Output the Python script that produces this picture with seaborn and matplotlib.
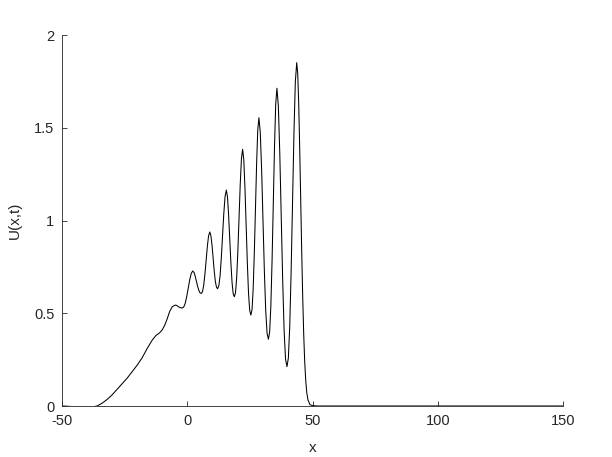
import matplotlib
matplotlib.use("Agg")
import matplotlib.pyplot as plt
import seaborn as sns
import pandas as pd

# values
x_tail = [-50, -47, -44, -41, -38, -36, -34, -32, -30, -28, -26, -24, -22, -20,
          -18, -16, -14, -12.5, -11, -10, -9, -8, -7, -6, -5, -4.6, -4, -3]
u_tail = [0.0, -0.002, -0.005, -0.007, -0.005, 0.0, 0.015, 0.035, 0.06, 0.09, 0.12, 0.15, 0.185, 0.22,
          0.26, 0.31, 0.355, 0.38, 0.395, 0.41, 0.435, 0.47, 0.51, 0.535, 0.543, 0.544, 0.54, 0.531]

x_waves = [-2.0, -1.4, -0.8, -0.2, 0.4, 1.0, 1.6, 2.2,
           2.69, 3.17, 3.66, 4.14, 4.63, 5.11, 5.6,
           6.09, 6.57, 7.06, 7.54, 8.03, 8.51, 9.0,
           9.44, 9.89, 10.33, 10.77, 11.21, 11.66, 12.1,
           12.6, 13.1, 13.6, 14.1, 14.6, 15.1, 15.6,
           16.06, 16.51, 16.97, 17.43, 17.89, 18.34, 18.8,
           19.27, 19.74, 20.21, 20.69, 21.16, 21.63, 22.1,
           22.57, 23.04, 23.51, 23.99, 24.46, 24.93, 25.4,
           25.86, 26.31, 26.77, 27.23, 27.69, 28.14, 28.6,
           29.14, 29.69, 30.23, 30.77, 31.31, 31.86, 32.4,
           32.89, 33.37, 33.86, 34.34, 34.83, 35.31, 35.8,
           36.37, 36.94, 37.51, 38.09, 38.66, 39.23, 39.8,
           40.36, 40.91, 41.47, 42.03, 42.59, 43.14, 43.7]
u_waves = [0.528, 0.534, 0.554, 0.591, 0.636, 0.681, 0.715, 0.728,
           0.720, 0.700, 0.672, 0.645, 0.623, 0.610, 0.607,
           0.616, 0.651, 0.711, 0.785, 0.861, 0.917, 0.938,
           0.918, 0.866, 0.797, 0.728, 0.672, 0.641, 0.632,
           0.647, 0.702, 0.799, 0.919, 1.040, 1.130, 1.164,
           1.127, 1.029, 0.899, 0.769, 0.665, 0.605, 0.589,
           0.611, 0.694, 0.838, 1.018, 1.198, 1.333, 1.384,
           1.327, 1.175, 0.972, 0.770, 0.608, 0.515, 0.490,
           0.520, 0.630, 0.823, 1.063, 1.305, 1.486, 1.554,
           1.478, 1.275, 1.004, 0.734, 0.518, 0.393, 0.360,
           0.398, 0.539, 0.783, 1.089, 1.396, 1.627, 1.713,
           1.617, 1.362, 1.021, 0.682, 0.410, 0.254, 0.212,
           0.258, 0.428, 0.725, 1.096, 1.467, 1.746, 1.851]

x_front = [44.1, 44.5, 44.9, 45.3, 45.7, 46.1, 46.5, 46.9, 47.3, 47.7, 48.2, 49.0, 50, 52,
           60, 80, 100, 120, 140, 150]
u_front = [1.792, 1.627, 1.386, 1.106, 0.828, 0.582, 0.382, 0.235, 0.137, 0.074, 0.032, 0.007, 0.002, 0.0,
           0.0, 0.0, 0.0, 0.0, 0.0, 0.0]

x_ticks = [-50, 0, 50, 100, 150]
x_tick_labels = ["-50", "0", "50", "100", "150"]
y_ticks = [0, 0.5, 1, 1.5, 2]
y_tick_labels = ["0", "0.5", "1", "1.5", "2"]

df = pd.DataFrame({"x": x_tail + x_waves + x_front,
                   "U": u_tail + u_waves + u_front})

sns.set_style("ticks")
plt.rcParams["font.family"] = ["Liberation Sans", "DejaVu Sans"]

ax_color = "#262626"
fig = plt.figure(figsize=(6.12, 4.57), dpi=100)
ax = fig.add_axes([62/612, 1-406/457, 501/612, 371/457])
sns.lineplot(data=df, x="x", y="U", ax=ax, color="black", linewidth=0.75, sort=False)

ax.set_xlim(-50, 150)
ax.set_ylim(0, 2)
ax.set_xticks(x_ticks)
ax.set_xticklabels(x_tick_labels)
ax.set_yticks(y_ticks)
ax.set_yticklabels(y_tick_labels)
ax.tick_params(direction="in", length=3.6, width=0.6, colors=ax_color, labelsize=10.5)
ax.tick_params(axis="x", pad=6)
ax.tick_params(axis="y", pad=5.5)
for s in ["top", "right"]:
    ax.spines[s].set_visible(False)
for s in ["left", "bottom"]:
    ax.spines[s].set_color(ax_color)
    ax.spines[s].set_linewidth(0.6)
ax.set_xlabel("x", fontsize=11, color=ax_color, labelpad=9)
ax.set_ylabel("U(x,t)", fontsize=11, color=ax_color, labelpad=9)

fig.savefig("out.png", dpi=100)
